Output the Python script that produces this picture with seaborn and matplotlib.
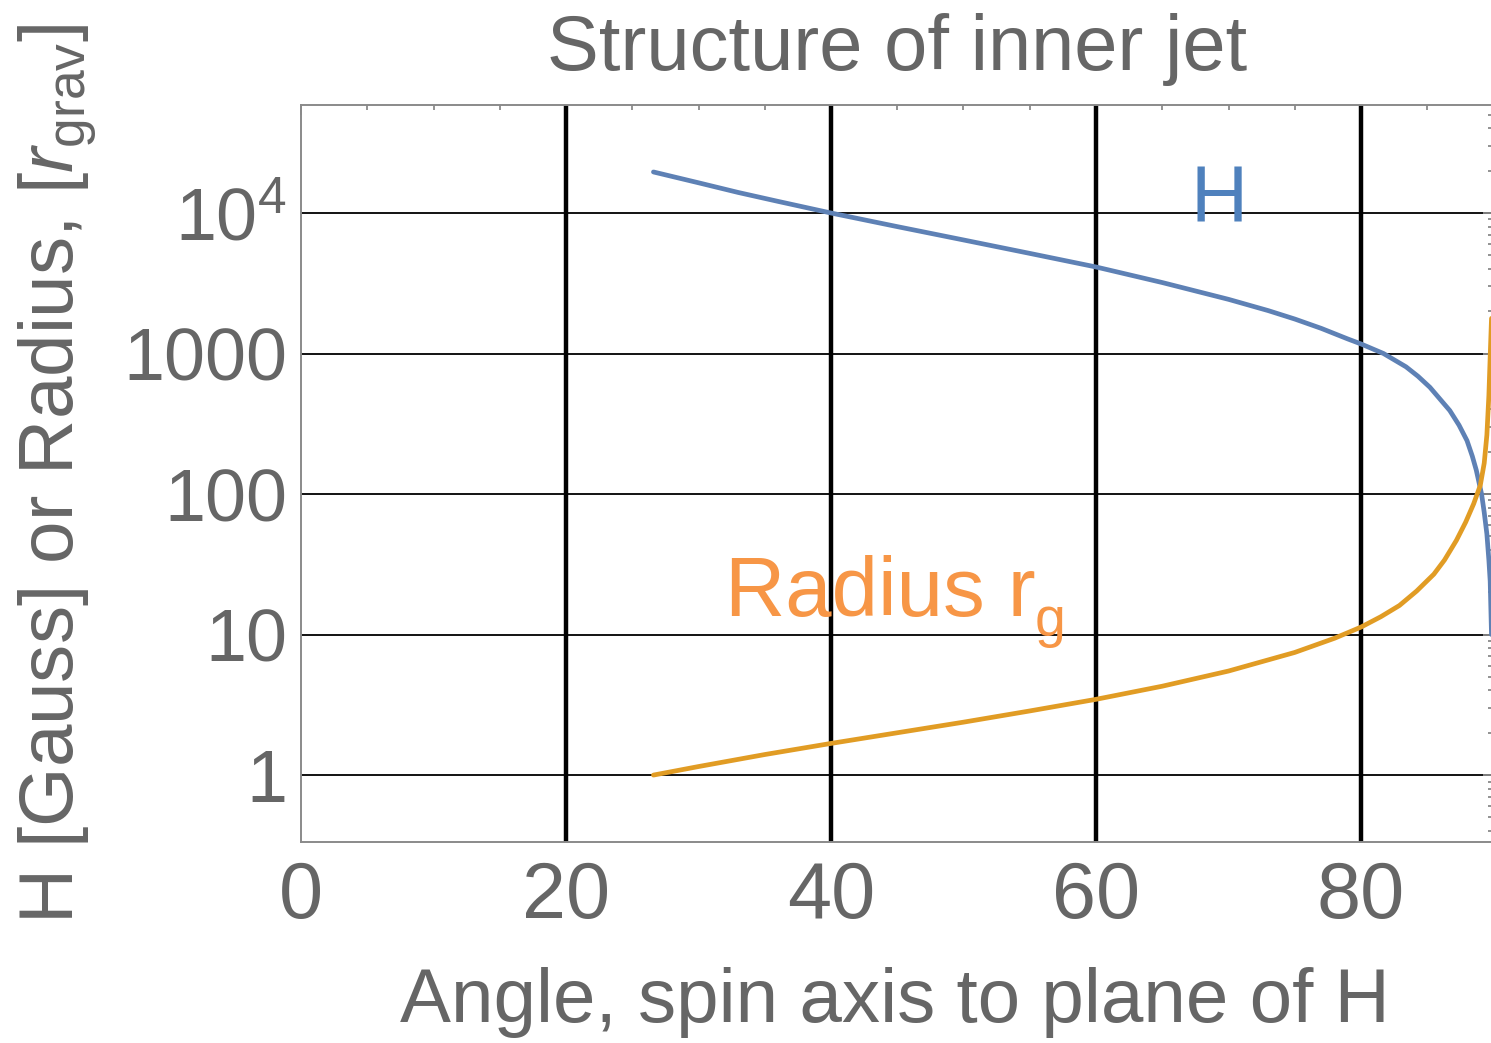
import matplotlib
matplotlib.use("Agg")
import matplotlib.pyplot as plt
import pandas as pd
import seaborn as sns
from matplotlib.ticker import FixedLocator, FixedFormatter, MultipleLocator, LogLocator, NullFormatter

# Magnetic field H [Gauss] versus angle between spin axis and plane of H
angle_H = [26.6, 30, 33, 36, 40, 45, 50, 55, 60, 65, 70, 73, 75, 77, 79, 80,
           81.7, 83.4, 84.3, 85.2, 86.7, 87.4, 88.0, 88.4, 88.7, 89.1, 89.3,
           89.5, 89.65, 89.75, 89.85]
field_H = [19590, 16410, 14000, 12100, 10000, 8000, 6430, 5160, 4130, 3200,
           2430, 2020, 1760, 1510, 1270, 1170, 1000, 804, 689, 575, 393, 309,
           240, 186, 148, 100, 74, 52, 34, 24, 10]

# Jet radius in gravitational radii versus the same angle
angle_r = [26.6, 30, 35, 40, 45, 50, 55, 60, 65, 70, 75, 78, 80, 81.5, 82.9,
           84.2, 85.5, 86.3, 87.2, 87.9, 88.5, 89.0, 89.3, 89.5, 89.65, 89.75,
           89.85]
radius_r = [1.0, 1.15, 1.40, 1.68, 2.0, 2.38, 2.86, 3.46, 4.29, 5.5, 7.46, 9.41,
            11.3, 13.4, 16.1, 20.4, 26.9, 33.9, 46.8, 63.1, 85.1, 115, 166, 263,
            501, 955, 1780]

x_ticks = [0, 20, 40, 60, 80]
x_tick_labels = ["0", "20", "40", "60", "80"]
y_ticks = [1, 10, 100, 1000, 10000]
y_tick_labels = ["1", "10", "100", "1000", r"10$^{4}$"]
grid_x = [20, 40, 60, 80]

BLUE = "#5E81B5"
ORANGE = "#E19C24"
GRAY = "#666666"
FRAME = "#8a8a8a"

sns.set_style("white")
plt.rcParams["font.family"] = ["Liberation Sans", "DejaVu Sans"]
plt.rcParams["mathtext.fontset"] = "custom"
plt.rcParams["mathtext.rm"] = "Liberation Sans"
plt.rcParams["mathtext.it"] = "Liberation Sans:italic"
plt.rcParams["mathtext.bf"] = "Liberation Sans:bold"

fig = plt.figure(figsize=(14.91, 10.43), dpi=100)
ax = fig.add_axes([301 / 1491, 1 - 842 / 1043, 1192.5 / 1491, 737 / 1043])

df_H = pd.DataFrame({"angle": angle_H, "value": field_H})
df_r = pd.DataFrame({"angle": angle_r, "value": radius_r})

sns.lineplot(data=df_H, x="angle", y="value", ax=ax, color=BLUE, lw=3.4,
             zorder=5, sort=False)
sns.lineplot(data=df_r, x="angle", y="value", ax=ax, color=ORANGE, lw=3.4,
             zorder=6, sort=False)

ax.set_yscale("log")
ax.set_xlim(0, 90)
ax.set_ylim(0.334, 58700)

# grid: heavy vertical lines, thin horizontal lines
for gx in grid_x:
    ax.axvline(gx, color="black", lw=3.2, zorder=2)
ax.yaxis.grid(True, which="major", color="black", lw=1.3, zorder=1)
ax.xaxis.grid(False)
ax.set_axisbelow(True)

ax.xaxis.set_major_locator(FixedLocator(x_ticks))
ax.xaxis.set_major_formatter(FixedFormatter(x_tick_labels))
ax.xaxis.set_minor_locator(MultipleLocator(5))
ax.yaxis.set_major_locator(FixedLocator(y_ticks))
ax.yaxis.set_major_formatter(FixedFormatter(y_tick_labels))
ax.yaxis.set_minor_locator(LogLocator(base=10, subs=range(2, 10), numticks=20))
ax.yaxis.set_minor_formatter(NullFormatter())

ax.tick_params(which="both", direction="in", top=True, right=True,
               color=FRAME, width=1.3)
ax.tick_params(which="major", length=7)
ax.tick_params(which="minor", length=3.5)
ax.tick_params(axis="x", which="major", labelsize=57, labelcolor=GRAY, pad=13)
ax.tick_params(axis="y", which="major", labelsize=53, labelcolor=GRAY, pad=10)

for sp in ax.spines.values():
    sp.set_color(FRAME)
    sp.set_linewidth(1.4)

ax.set_title("Structure of inner jet", fontsize=56, color=GRAY, pad=25)
ax.set_xlabel("Angle, spin axis to plane of H", fontsize=55, color=GRAY)
ax.set_ylabel(r"H [Gauss] or Radius, [$\mathit{r}_{\mathrm{grav}}$]",
              fontsize=55, color=GRAY)
ax.xaxis.set_label_coords(0.498, -0.169)
ax.yaxis.set_label_coords(-0.170, 0.5)

ax.text(67.1, 8630, "H", fontsize=57, color="#4F81BD", ha="left",
        va="baseline", zorder=7)
ax.text(32.0, 13.6, "Radius r", fontsize=60, color="#F79646",
        ha="left", va="baseline", zorder=7)
ax.text(55.4, 9.7, "g", fontsize=40, color="#F79646",
        ha="left", va="baseline", zorder=7)

fig.savefig("out.png", dpi=100)
